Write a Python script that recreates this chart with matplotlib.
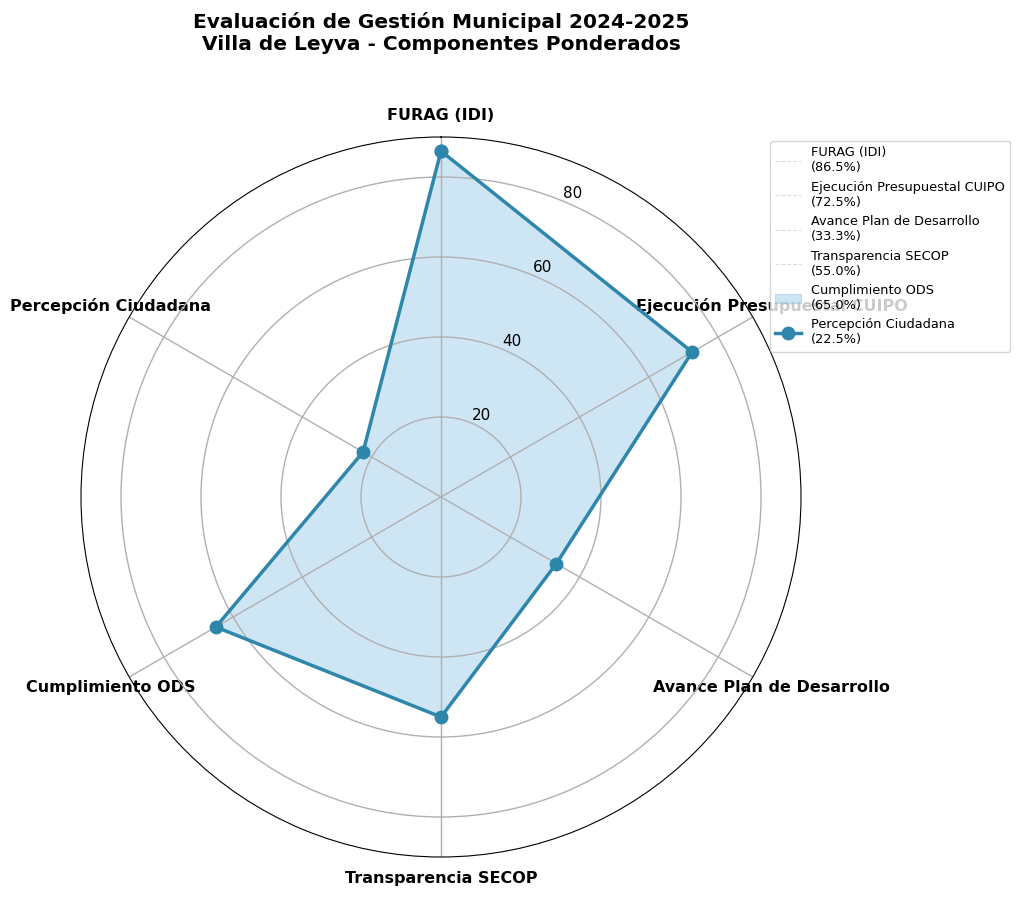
import numpy as np
import matplotlib
matplotlib.use('Agg')
import matplotlib.pyplot as plt
from matplotlib.lines import Line2D
from matplotlib.patches import Patch

# ---- data ----
categories = ['FURAG (IDI)', 'Ejecución Presupuestal CUIPO', 'Avance Plan de Desarrollo',
              'Transparencia SECOP', 'Cumplimiento ODS', 'Percepción Ciudadana']
values = [86.5, 72.5, 33.3, 55.0, 65.0, 22.5]
r_ticks = [20, 40, 60, 80]
r_max = 90

line_color = '#2E86AB'
fill_color = '#85C0E4'

n = len(categories)
angles = np.linspace(0, 2 * np.pi, n, endpoint=False).tolist()
ang_closed = angles + angles[:1]
val_closed = values + values[:1]

fig = plt.figure(figsize=(10.24, 8.99), dpi=100)
ax = fig.add_axes([81 / 1024, 42 / 899, 720 / 1024, 720 / 899], projection='polar')
ax.set_theta_offset(np.pi / 2)
ax.set_theta_direction(-1)

ax.fill(ang_closed, val_closed, color=fill_color, alpha=0.4)
ax.plot(ang_closed, val_closed, 'o-', color=line_color, linewidth=2.5, markersize=9)

ax.set_xticks(angles)
ax.set_xticklabels(categories, fontsize=11.5, fontweight='bold')
ax.tick_params(axis='x', pad=5)
ax.set_ylim(0, r_max)
ax.set_yticks(r_ticks)
ax.set_yticklabels([str(t) for t in r_ticks], fontsize=11)
ax.grid(True, color='#b0b0b0', linewidth=1.0)

fig.text(441 / 1024, 1 - 33 / 899, 'Evaluación de Gestión Municipal 2024-2025\nVilla de Leyva - Componentes Ponderados',
         ha='center', va='center', fontsize=14.5, fontweight='bold', linespacing=1.15)

# legend: labels were mapped onto the axes' artists in order
leg_labels = [f'{c}\n({v:.1f}%)' for c, v in zip(categories, values)]
handles = [Line2D([], [], color='#bbbbbb', linestyle='--', linewidth=0.8, alpha=0.5) for _ in range(4)]
handles.append(Patch(facecolor=fill_color, alpha=0.4, edgecolor=fill_color))
handles.append(Line2D([], [], color=line_color, marker='o', linewidth=2.5, markersize=9))
fig.legend(handles, leg_labels, loc='upper left', bbox_to_anchor=(770 / 1024, 1 - 141 / 899),
           fontsize=9.3, labelspacing=0.5, handlelength=2.0, borderaxespad=0)

fig.savefig('out.png', dpi=100)
